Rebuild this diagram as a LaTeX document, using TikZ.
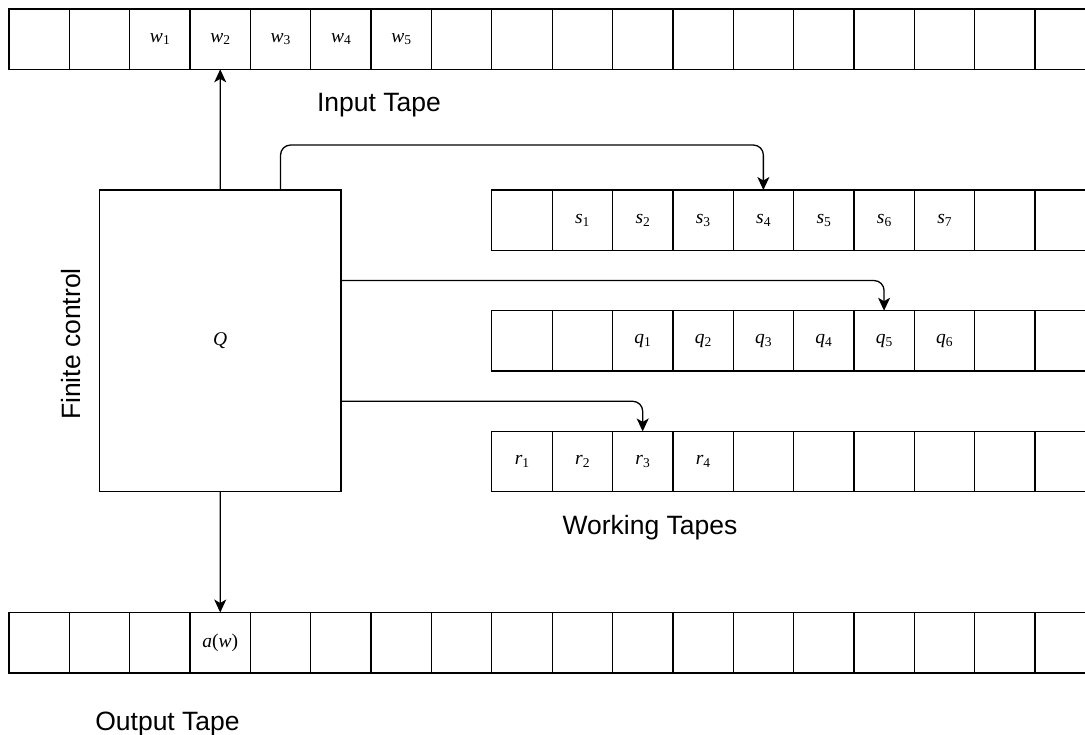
\documentclass[tikz,border=0pt]{standalone}
\usepackage[no-math]{fontspec}
\newfontfamily\lsans{Liberation Sans}
\newfontfamily\lserif{Liberation Serif}
\newcommand\cellsym[2]{\textit{#1}\raisebox{-0.3ex}{\fontsize{13.5}{14}\selectfont #2}}
\usetikzlibrary{arrows.meta,calc}
\begin{document}
\begin{tikzpicture}[x=1pt,y=-1pt,
  cell/.style={draw, line width=1.3pt, minimum width=60.35pt, minimum height=60.35pt,
    inner sep=0pt, outer sep=0pt, font=\lserif\fontsize{19.5}{22}\selectfont},
  fcbox/.style={draw, line width=1.3pt, minimum width=241.4pt, minimum height=301.75pt,
    inner sep=0pt, outer sep=0pt, font=\lserif\fontsize{19.5}{22}\selectfont},
  conn/.style={line width=1.3pt, -{Stealth[length=13pt,width=12pt,inset=3.5pt]},
    rounded corners=10pt},
  tapelabel/.style={font=\lsans\fontsize{26.5}{30}\selectfont, inner sep=0pt, anchor=base}]
\useasboundingbox (0,0) rectangle (1085,735);
\clip (0,0) rectangle (1085,735);
% input tape
\foreach \k/\t in {0/{},1/{},2/{\cellsym{w}{1}},3/{\cellsym{w}{2}},4/{\cellsym{w}{3}},5/{\cellsym{w}{4}},6/{\cellsym{w}{5}},7/{},8/{},9/{},10/{},11/{},12/{},13/{},14/{},15/{},16/{},17/{}}
  \node[cell] (in-\k) at ({39.175+60.35*\k}, 39.175) {\t};
% s tape
\foreach \k/\t in {8/{},9/{\cellsym{s}{1}},10/{\cellsym{s}{2}},11/{\cellsym{s}{3}},12/{\cellsym{s}{4}},13/{\cellsym{s}{5}},14/{\cellsym{s}{6}},15/{\cellsym{s}{7}},16/{},17/{}}
  \node[cell] (s-\k) at ({39.175+60.35*\k}, 220.2) {\t};
% q tape
\foreach \k/\t in {8/{},9/{},10/{\cellsym{q}{1}},11/{\cellsym{q}{2}},12/{\cellsym{q}{3}},13/{\cellsym{q}{4}},14/{\cellsym{q}{5}},15/{\cellsym{q}{6}},16/{},17/{}}
  \node[cell] (q-\k) at ({39.175+60.35*\k}, 340.9) {\t};
% r tape
\foreach \k/\t in {8/{\cellsym{r}{1}},9/{\cellsym{r}{2}},10/{\cellsym{r}{3}},11/{\cellsym{r}{4}},12/{},13/{},14/{},15/{},16/{},17/{}}
  \node[cell] (r-\k) at ({39.175+60.35*\k}, 461.6) {\t};
% output tape
\foreach \k/\t in {0/{},1/{},2/{},3/{\textit{a}(\textit{w})},4/{},5/{},6/{},7/{},8/{},9/{},10/{},11/{},12/{},13/{},14/{},15/{},16/{},17/{}}
  \node[cell] (o-\k) at ({39.175+60.35*\k}, 642.7) {\t};
% finite control
\node[fcbox] (fc) at (220.2, 340.9) {\textit{Q}};
\coordinate (fcs) at ($(fc.north west)!0.75!(fc.north east)$);
\coordinate (fcq) at ($(fc.north east)!0.3!(fc.south east)$);
\coordinate (fcr) at ($(fc.north east)!0.7!(fc.south east)$);
% labels
\node[tapelabel] (inlabel) at (379, 111.7) {Input Tape};
\node[tapelabel] (wlabel) at (650, 534) {Working Tapes};
\node[tapelabel] (outlabel) at (167.5, 730) {Output Tape};
\node[tapelabel, rotate=90] (fclabel) at (80, 344) {Finite control};
% connectors
\draw[conn] (fc.north) -- (in-3.south);
\draw[conn] (fc.south) -- (o-3.north);
\draw[conn] (fcs) -- ++(0,-45) -| (s-12.north);
\draw[conn] (fcq) -| (q-14.north);
\draw[conn] (fcr) -| (r-10.north);
\end{tikzpicture}
\end{document}
